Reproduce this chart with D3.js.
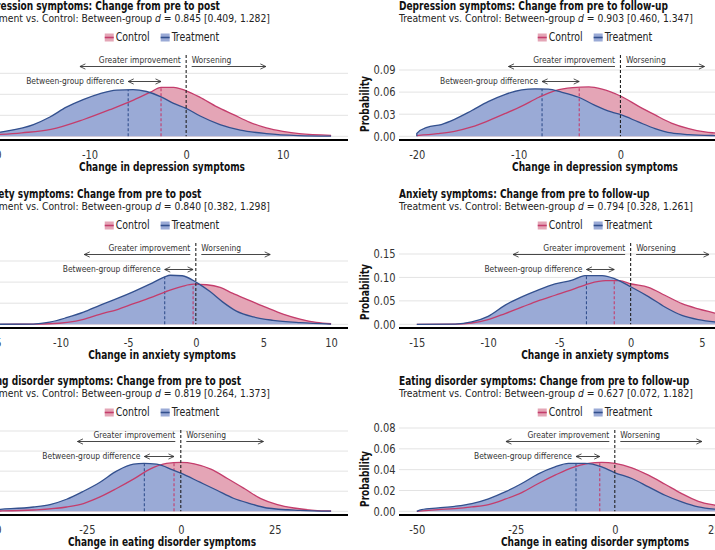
<!DOCTYPE html>
<html><head><meta charset="utf-8">
<script src="https://cdn.jsdelivr.net/npm/d3@7"></script>
<style>body{margin:0;background:#fff}svg{display:block}</style>
</head><body>
<svg id="c" width="715" height="550"></svg>
<script>
// ---------------- data ----------------
const panelTitles = [
  "Depression symptoms: Change from pre to post",
  "Depression symptoms: Change from pre to follow-up",
  "Anxiety symptoms: Change from pre to post",
  "Anxiety symptoms: Change from pre to follow-up",
  "Eating disorder symptoms: Change from pre to post",
  "Eating disorder symptoms: Change from pre to follow-up"
];
const dValues = ["0.845", "0.903", "0.840", "0.794", "0.819", "0.627"];
const dIntervals = ["[0.409, 1.282]", "[0.460, 1.347]", "[0.382, 1.298]", "[0.328, 1.261]", "[0.264, 1.373]", "[0.072, 1.182]"];
const xLabels = [
  "Change in depression symptoms", "Change in depression symptoms",
  "Change in anxiety symptoms", "Change in anxiety symptoms",
  "Change in eating disorder symptoms", "Change in eating disorder symptoms"
];
const legendLabels = ["Control", "Treatment"];
const xDataRanges = [[-20, 15], [-20, 15], [-15, 10], [-15, 10], [-50, 40], [-50, 40]];
const xTickValues = [
  [-20, -10, 0, 10], [-20, -10, 0, 10],
  [-15, -10, -5, 0, 5, 10], [-15, -10, -5, 0, 5, 10],
  [-50, -25, 0, 25], [-50, -25, 0, 25]
];
const yTickValues = [
  [0, 0.03, 0.06, 0.09], [0, 0.03, 0.06, 0.09],
  [0, 0.04, 0.08, 0.12], [0, 0.05, 0.10, 0.15],
  [0, 0.02, 0.04, 0.06, 0.08], [0, 0.02, 0.04, 0.06, 0.08]
];
const treatmentMeans = [-6.0, -7.7, -2.3, -3.1, -9.7, -9.8];
const controlMeans = [-2.6, -4.05, -0.2, -1.15, -1.8, -3.8];
const improveArrowEnd = [-11, -11, -8.25, -8.25, -27.5, -27.5];
const worsenArrowEnd = [8.25, 8.25, 5.5, 5.5, 22, 22];

const depPostControl = [[-20,0.002],[-17,0.005],[-14,0.0098],[-10.6,0.024],[-7.9,0.038],[-5.4,0.052],[-3.7,0.063],[-2.6,0.070],[-1.3,0.070],[0,0.065],[1.4,0.056],[3.2,0.042],[4.9,0.031],[6.6,0.020],[8.3,0.012],[10,0.007],[11.7,0.0037],[15,0.0014]];
const depPostTreatment = [[-20,0.004],[-19.2,0.006],[-15.8,0.0168],[-14.1,0.0276],[-12.4,0.0416],[-10.6,0.0528],[-8.9,0.061],[-7.2,0.066],[-5.5,0.0668],[-4.1,0.064],[-2.6,0.0564],[-1.3,0.047],[0,0.040],[1.45,0.029],[3.5,0.0168],[5.6,0.0089],[8.3,0.0038],[11.6,0.001],[15,0.0002]];
const depFuControl = [[-20,0.001],[-18,0.0036],[-16.3,0.0068],[-14.6,0.0127],[-13,0.021],[-11.3,0.031],[-9.7,0.041],[-8,0.053],[-6.4,0.062],[-4.7,0.066],[-3.1,0.067],[-1.8,0.064],[0.1,0.054],[1.75,0.041],[3.4,0.029],[5,0.018],[6.7,0.0105],[8.3,0.006],[9.3,0.0045],[12,0.0015],[15,0.0004]];
const depFuTreatment = [[-20,0.004],[-19,0.012],[-17.6,0.016],[-16.3,0.023],[-14.6,0.035],[-13,0.047],[-11.3,0.057],[-9.7,0.063],[-8.4,0.0645],[-7.1,0.064],[-5.8,0.060],[-4.1,0.053],[-2.5,0.042],[-0.9,0.033],[0.1,0.029],[1.75,0.0195],[3.4,0.0105],[5,0.0045],[6.7,0.0023],[9.3,0.001],[15,0.0001]];
const anxPostControl = [[-15,0],[-12,0.0003],[-10.8,0.001],[-9.5,0.0038],[-8.3,0.0095],[-7.1,0.019],[-5.8,0.028],[-4.6,0.039],[-3.4,0.050],[-2.2,0.062],[-1.0,0.072],[-0.17,0.076],[0.8,0.075],[1.8,0.070],[2.7,0.059],[4.0,0.045],[5.2,0.032],[6.5,0.019],[7.7,0.010],[8.9,0.0038],[10,0.001]];
const anxPostTreatment = [[-15,0],[-12,0.0005],[-10.8,0.004],[-9.5,0.013],[-8.3,0.023],[-7.1,0.036],[-5.8,0.049],[-4.6,0.062],[-3.4,0.076],[-2.3,0.090],[-1.9,0.093],[-1.0,0.092],[0.07,0.079],[1.05,0.062],[2.0,0.042],[3.0,0.025],[4.25,0.014],[5.7,0.0076],[7.7,0.0032],[10,0.0005]];
const anxFuControl = [[-15,0],[-12.3,0.0003],[-11.15,0.0028],[-10,0.010],[-8.8,0.023],[-7.6,0.037],[-6.5,0.050],[-5.3,0.062],[-4.1,0.074],[-2.9,0.087],[-1.75,0.093],[-0.8,0.093],[0.07,0.086],[1.25,0.079],[2.4,0.062],[3.6,0.044],[4.75,0.033],[5.9,0.024],[7,0.015],[8.5,0.007],[10,0.002]];
const anxFuTreatment = [[-15,0],[-12.3,0.0005],[-11.15,0.005],[-10,0.017],[-8.8,0.041],[-7.6,0.059],[-6.5,0.073],[-5.3,0.086],[-4.1,0.094],[-3.2,0.104],[-2.0,0.104],[-1.1,0.097],[0.07,0.079],[1.25,0.059],[2.4,0.037],[3.6,0.019],[4.75,0.010],[5.9,0.005],[7.5,0.002],[10,0.0003]];
const edPostControl = [[-50,0.0002],[-48,0.0003],[-39.2,0.0013],[-30.4,0.0043],[-25.9,0.0077],[-21.5,0.0143],[-17.1,0.0227],[-12.6,0.032],[-8.2,0.042],[-3.8,0.0477],[0,0.0487],[3.6,0.0473],[8,0.042],[12.4,0.0327],[16.9,0.0227],[21.3,0.0127],[25.7,0.0067],[30.1,0.0033],[35.5,0.001],[40,0.0003]];
const edPostTreatment = [[-50,0.0015],[-48,0.002],[-39.2,0.0043],[-34.8,0.0067],[-30.4,0.012],[-25.9,0.020],[-21.5,0.029],[-17.1,0.040],[-12.6,0.047],[-9.8,0.0477],[-6.4,0.047],[-2.0,0.041],[0,0.038],[5.1,0.029],[9.6,0.021],[14,0.013],[18.4,0.0077],[22.9,0.0033],[31.7,0.001],[40,0.0002]];
const edFuControl = [[-50,0],[-44.6,0.0016],[-40.4,0.0026],[-36.1,0.0042],[-31.9,0.0064],[-27.7,0.0116],[-23.5,0.018],[-19.3,0.0267],[-15.1,0.0347],[-10.9,0.0418],[-6.7,0.046],[-3.3,0.047],[0.05,0.046],[4.3,0.0418],[8.5,0.0347],[12.7,0.026],[16.9,0.017],[21.1,0.0096],[25.3,0.0058],[30,0.003],[35,0.0013],[40,0.0005]];
const edFuTreatment = [[-50,0],[-48.8,0.0016],[-44.6,0.0032],[-40.4,0.0048],[-36.1,0.0074],[-31.9,0.012],[-27.7,0.0186],[-23.5,0.0267],[-19.3,0.036],[-15.1,0.0427],[-11.7,0.046],[-7.5,0.046],[-3.3,0.0427],[0.05,0.037],[4.3,0.0315],[8.5,0.0235],[12.7,0.0154],[16.9,0.009],[21.1,0.0042],[25.3,0.002],[30,0.001],[40,0.0001]];

const controlCurves = [depPostControl, depFuControl, anxPostControl, anxFuControl, edPostControl, edFuControl];
const treatmentCurves = [depPostTreatment, depFuTreatment, anxPostTreatment, anxFuTreatment, edPostTreatment, edFuTreatment];

// ---------------- layout / style ----------------
const FONT = "'Liberation Sans Narrow','DejaVu Sans Condensed','Roboto Condensed','Liberation Sans',Arial,sans-serif";
const colPlotX = [[-24, 348], [399, 791]];
const rowTop = [0, 188, 375];
const yTopPx = [73.3, 70, 73, 66, 56, 53];
const BASE = 136.3;
const C_FILL = "#e4a5b6", C_LINE = "#c43d6c";
const T_FILL = "#9aaad6", T_LINE = "#33508e";

const svg = d3.select("#c").style("font-family", FONT);
const defs = svg.append("defs");
defs.append("marker").attr("id", "ah").attr("viewBox", "0 0 10 10")
  .attr("refX", 9.5).attr("refY", 5).attr("markerWidth", 6.5).attr("markerHeight", 6.5)
  .attr("markerUnits", "userSpaceOnUse").attr("orient", "auto-start-reverse")
  .append("path").attr("d", "M1,1 L9.5,5 L1,9").attr("fill", "none")
  .attr("stroke", "#333").attr("stroke-width", 1.3);

function interp(curve, xv) {
  for (let k = 0; k < curve.length - 1; k++) {
    const a = curve[k], b = curve[k + 1];
    if (xv >= a[0] && xv <= b[0]) return a[1] + (b[1] - a[1]) * (xv - a[0]) / (b[0] - a[0]);
  }
  return 0;
}

const legendGroups = [];

for (let i = 0; i < 6; i++) {
  const col = i % 2, row = Math.floor(i / 2);
  const rt = rowTop[row];
  const [pl, pr] = colPlotX[col];
  const [dmin, dmax] = xDataRanges[i];
  const R = dmax - dmin;
  const x = d3.scaleLinear().domain([dmin - 0.05 * R, dmax + 0.05 * R]).range([pl, pr]);
  const yt = yTickValues[i];
  const y = d3.scaleLinear().domain([0, yt[yt.length - 1]]).range([rt + BASE, rt + yTopPx[i]]);
  const g = svg.append("g");

  g.selectAll("line.grid").data(yt).join("line").attr("class", "grid")
    .attr("x1", pl).attr("x2", pr).attr("y1", d => y(d)).attr("y2", d => y(d))
    .attr("stroke", "#e3e3e3").attr("stroke-width", 1);

  const area = d3.area().x(d => x(d[0])).y0(y(0)).y1(d => y(d[1])).curve(d3.curveMonotoneX);
  const line = d3.line().x(d => x(d[0])).y(d => y(d[1])).curve(d3.curveMonotoneX);
  g.append("path").datum(controlCurves[i]).attr("d", area).attr("fill", C_FILL);
  g.append("path").datum(treatmentCurves[i]).attr("d", area).attr("fill", T_FILL);

  g.append("line").attr("x1", x(controlMeans[i])).attr("x2", x(controlMeans[i]))
    .attr("y1", y(0)).attr("y2", y(interp(controlCurves[i], controlMeans[i])))
    .attr("stroke", C_LINE).attr("stroke-width", 1.1).attr("stroke-dasharray", "3,2");
  g.append("line").attr("x1", x(treatmentMeans[i])).attr("x2", x(treatmentMeans[i]))
    .attr("y1", y(0)).attr("y2", y(interp(treatmentCurves[i], treatmentMeans[i])))
    .attr("stroke", T_LINE).attr("stroke-width", 1.1).attr("stroke-dasharray", "3,2");

  g.append("path").datum(controlCurves[i]).attr("d", line).attr("fill", "none")
    .attr("stroke", C_LINE).attr("stroke-width", 1.3);
  const tc = treatmentCurves[i];
  g.append("path").datum([[tc[0][0], 0]].concat(tc)).attr("d", line).attr("fill", "none")
    .attr("stroke", T_LINE).attr("stroke-width", 1.3);

  g.append("line").attr("x1", x(0)).attr("x2", x(0)).attr("y1", rt + 55).attr("y2", y(0))
    .attr("stroke", "#222").attr("stroke-width", 1.1).attr("stroke-dasharray", "3,2");

  g.append("line").attr("x1", pl).attr("x2", pr).attr("y1", rt + 140).attr("y2", rt + 140)
    .attr("stroke", "#000").attr("stroke-width", 2);

  const xa = g.append("g").attr("transform", `translate(0,${rt + 140})`)
    .call(d3.axisBottom(x).tickValues(xTickValues[i]).tickSize(0).tickPadding(10).tickFormat(d => String(d)));
  xa.select(".domain").remove();
  xa.selectAll("text").attr("class", "fit-tick").attr("font-size", 12).attr("fill", "#333").style("font-family", FONT);

  const ya = g.append("g").attr("transform", `translate(${pl},0)`)
    .call(d3.axisLeft(y).tickValues(yt).tickSize(0).tickPadding(3.5).tickFormat(d3.format(".2f")));
  ya.select(".domain").remove();
  ya.selectAll("text").attr("class", "fit-tick ytick").attr("font-size", 12).attr("fill", "#333").style("font-family", FONT);

  g.append("text").attr("class", "fit-ylab")
    .attr("transform", `translate(${pl - 30},${rt + 104}) rotate(-90)`)
    .attr("text-anchor", "middle").attr("font-size", 12).attr("font-weight", "bold").attr("fill", "#111")
    .text("Probability");

  g.append("text").attr("class", "fit-title").attr("x", pl).attr("y", rt + 9.5)
    .attr("font-size", 12).attr("font-weight", "bold").attr("fill", "#111").text(panelTitles[i]);
  const st = g.append("text").attr("class", "fit-sub").attr("x", pl).attr("y", rt + 22)
    .attr("font-size", 11).attr("fill", "#222");
  st.append("tspan").text("Treatment vs. Control: Between-group ");
  st.append("tspan").attr("font-style", "italic").text("d");
  st.append("tspan").text(" = " + dValues[i] + " " + dIntervals[i]);

  g.append("text").attr("class", "fit-xlab").attr("x", (pl + pr) / 2).attr("y", rt + 171)
    .attr("text-anchor", "middle").attr("font-size", 12).attr("font-weight", "bold").attr("fill", "#111")
    .text(xLabels[i]);

  const x0 = x(0);
  g.append("text").attr("class", "fit-ann").attr("x", x0 - 5.5).attr("y", rt + 62.5)
    .attr("text-anchor", "end").attr("font-size", 9.5).attr("fill", "#333").text("Greater improvement");
  g.append("text").attr("class", "fit-ann").attr("x", x0 + 5.5).attr("y", rt + 62.5)
    .attr("text-anchor", "start").attr("font-size", 9.5).attr("fill", "#333").text("Worsening");
  g.append("line").attr("x1", x0 - 5.5).attr("x2", x(improveArrowEnd[i])).attr("y1", rt + 66.5).attr("y2", rt + 66.5)
    .attr("stroke", "#333").attr("stroke-width", 0.9).attr("marker-end", "url(#ah)");
  g.append("line").attr("x1", x0 + 5.5).attr("x2", x(worsenArrowEnd[i])).attr("y1", rt + 66.5).attr("y2", rt + 66.5)
    .attr("stroke", "#333").attr("stroke-width", 0.9).attr("marker-end", "url(#ah)");
  g.append("line").attr("x1", x(treatmentMeans[i])).attr("x2", x(controlMeans[i]))
    .attr("y1", rt + 81.5).attr("y2", rt + 81.5)
    .attr("stroke", "#333").attr("stroke-width", 0.9)
    .attr("marker-start", "url(#ah)").attr("marker-end", "url(#ah)");
  g.append("text").attr("class", "fit-ann").attr("x", x(treatmentMeans[i]) - 4).attr("y", rt + 84.3)
    .attr("text-anchor", "end").attr("font-size", 9.5).attr("fill", "#333").text("Between-group difference");

  const lg = g.append("g");
  const fills = [C_FILL, T_FILL], strokes = [C_LINE, T_LINE];
  const items = legendLabels.map((lab, k) => {
    const r = lg.append("rect").attr("y", rt + 33.5).attr("width", 9).attr("height", 8).attr("fill", fills[k]);
    const l = lg.append("line").attr("y1", rt + 37.5).attr("y2", rt + 37.5).attr("stroke", strokes[k]).attr("stroke-width", 1.6);
    const t = lg.append("text").attr("class", "fit-leg").attr("y", rt + 41).attr("font-size", 12).attr("fill", "#222").text(lab);
    return { r, l, t };
  });
  legendGroups.push({ items, cx: (pl + pr) / 2 });
}

function fitClass(cls, refNode, target) {
  const nodes = svg.selectAll("." + cls).nodes();
  const nat = nodes.map(n => n.getComputedTextLength());
  const f = target / refNode.getComputedTextLength();
  nodes.forEach((n, k) => {
    n.setAttribute("textLength", (nat[k] * f).toFixed(2));
    n.setAttribute("lengthAdjust", "spacingAndGlyphs");
  });
  return f;
}
const nth = (cls, k) => svg.selectAll("." + cls).nodes()[k];
fitClass("fit-title", nth("fit-title", 1), 269);
fitClass("fit-sub", nth("fit-sub", 1), 294);
fitClass("fit-xlab", nth("fit-xlab", 1), 166);
fitClass("fit-ylab", nth("fit-ylab", 1), 56);
fitClass("fit-ann", nth("fit-ann", 5), 98);
fitClass("fit-leg", nth("fit-leg", 3), 47.6);
fitClass("fit-tick", nth("ytick", 7), 22);   // panel 2 "0.09"

legendGroups.forEach(({ items, cx }) => {
  const widths = items.map(it => +it.t.attr("textLength"));
  const total = 9 + 2 + widths[0] + 11 + 9 + 2 + widths[1];
  let cur = cx - total / 2;
  items.forEach((it, k) => {
    it.r.attr("x", cur);
    it.l.attr("x1", cur).attr("x2", cur + 9);
    it.t.attr("x", cur + 11);
    cur += 11 + widths[k] + 11;
  });
});
</script>
</body></html>
